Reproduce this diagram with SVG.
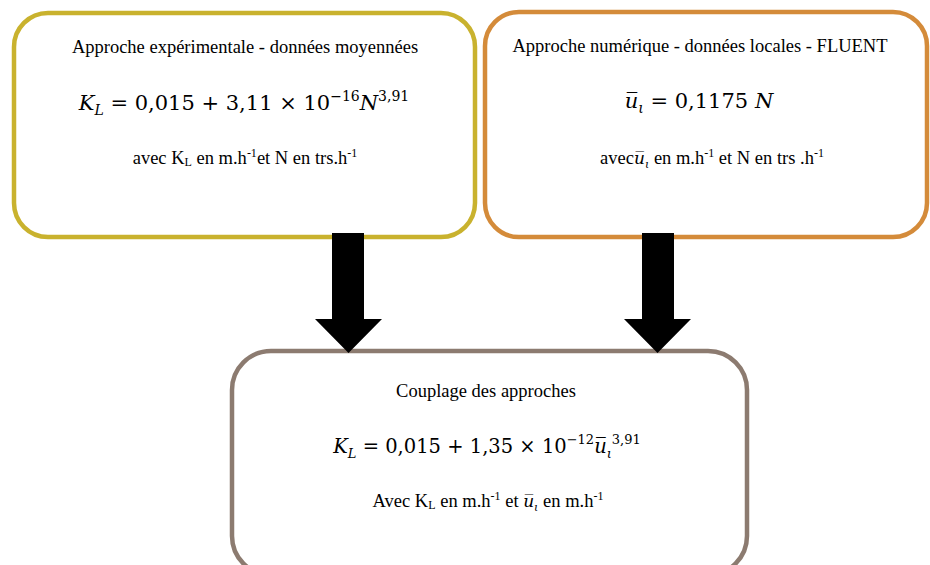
<svg xmlns="http://www.w3.org/2000/svg" width="930" height="565" viewBox="0 0 930 565">
<style>
.box{fill:#ffffff;stroke-width:4.5}
.t{font-family:"Liberation Serif","Times New Roman",serif;font-size:18.5px;fill:#000}
.m{font-family:"DejaVu Serif","Liberation Serif",serif;font-size:21px;fill:#000}
.mf{font-family:"DejaVu Serif","Liberation Serif",serif}
.i{font-style:italic}
.s{font-size:14px}
.ts{font-size:12px}
.arrow{fill:#000}
</style>
<rect width="930" height="565" fill="#ffffff"/>
<g id="node-experimental">
<rect class="box" x="14" y="13" width="461" height="224" rx="34" ry="34" stroke="#C9B22E"/>
<text class="t" x="245" y="53" text-anchor="middle">Approche expérimentale - données moyennées</text>
<text class="m" x="244" y="110" text-anchor="middle"><tspan class="i">K</tspan><tspan class="s i" dy="5">L</tspan><tspan dy="-5"> = 0,015 + 3,11 × 10</tspan><tspan class="s" dy="-9">−16</tspan><tspan class="i" dy="9">N</tspan><tspan class="s" dy="-9">3,91</tspan></text>
<text class="t" x="245" y="164" text-anchor="middle">avec K<tspan class="ts" dy="2">L</tspan><tspan dy="-2"> en m.h</tspan><tspan class="ts" dy="-7">-1</tspan><tspan dy="7">et N en trs.h</tspan><tspan class="ts" dy="-7">-1</tspan></text>
</g>
<g id="node-numerique">
<rect class="box" x="485" y="12" width="442" height="225" rx="34" ry="34" stroke="#D48B3A"/>
<text class="t" x="700" y="52" text-anchor="middle">Approche numérique - données locales - FLUENT</text>
<text class="m" x="699" y="108" text-anchor="middle"><tspan class="i">u̅</tspan><tspan class="s i" dy="5">ι</tspan><tspan dy="-5"> = 0,1175 </tspan><tspan class="i">N</tspan></text>
<text class="t" x="712" y="164" text-anchor="middle">avec<tspan class="mf i" style="font-size:17px">u̅</tspan><tspan class="mf i" style="font-size:11px" dy="4">ι</tspan><tspan dy="-4"> en m.h</tspan><tspan class="ts" dy="-7">-1</tspan><tspan dy="7"> et N en trs .h</tspan><tspan class="ts" dy="-7">-1</tspan></text>
</g>
<g id="node-couplage">
<rect class="box" x="232" y="351" width="515" height="224" rx="39" ry="39" stroke="#8C7B70"/>
<text class="t" x="486" y="397" text-anchor="middle">Couplage des approches</text>
<text class="mf" x="487" y="453" text-anchor="middle" style="font-size:19.5px"><tspan class="i">K</tspan><tspan class="i" style="font-size:13px" dy="5">L</tspan><tspan dy="-5"> = 0,015 + 1,35 × 10</tspan><tspan style="font-size:13px" dy="-9">−12</tspan><tspan class="i" dy="9">u̅</tspan><tspan class="i" style="font-size:13px" dy="5">ι</tspan><tspan style="font-size:13px" dy="-14">3,91</tspan></text>
<text class="t" x="488" y="507" text-anchor="middle">Avec K<tspan class="ts" dy="2">L</tspan><tspan dy="-2"> en m.h</tspan><tspan class="ts" dy="-7">-1</tspan><tspan dy="7"> et </tspan><tspan class="mf i" style="font-size:17px">u̅</tspan><tspan class="mf i" style="font-size:11px" dy="4">ι</tspan><tspan dy="-4"> en m.h</tspan><tspan class="ts" dy="-7">-1</tspan></text>
</g>
<g id="connectors">
<polygon id="arrow-left" class="arrow" points="332,233 364,233 364,319 382,319 348.5,353 315,319 332,319"/>
<polygon id="arrow-right" class="arrow" points="642,233 674,233 674,319 691,319 657.5,353 624,319 642,319"/>
</g>
</svg>
